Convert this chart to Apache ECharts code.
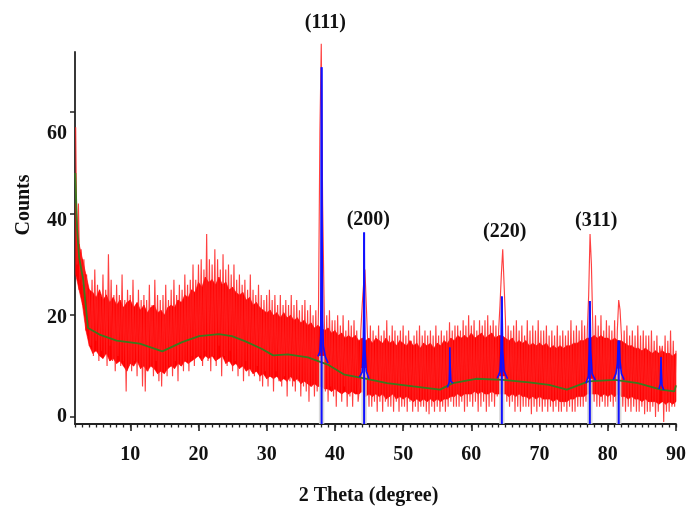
<!DOCTYPE html>
<html>
<head>
<meta charset="utf-8">
<script src="https://cdn.jsdelivr.net/npm/echarts@6/dist/echarts.min.js"></script>
<style>
  html, body { margin: 0; padding: 0; background: #fff; }
  #chart { width: 689px; height: 511px; }
</style>
</head>
<body>
<div id="chart"></div>
<script>
// Measured XRD pattern: counts sampled every 0.2 degrees from 2 to 90 (2θ)
const rawStart = 2.0;
const rawStep = 0.2;
const rawCounts = [
  57, 30, 42, 27, 33, 26, 31, 22, 28, 19,
  25, 14, 27, 12, 29, 15, 26, 11, 24, 13,
  28, 12, 25, 10, 32, 14, 27, 11, 24, 9,
  26, 12, 24, 10, 28, 11, 23, 5, 25, 10,
  24, 9, 27, 11, 22, 8, 25, 10, 23, 6,
  24, 5, 23, 9, 26, 10, 22, 8, 27, 11,
  24, 7, 23, 6, 24, 9, 26, 8, 23, 10,
  25, 8, 27, 11, 24, 7, 26, 10, 25, 9,
  28, 11, 26, 9, 27, 12, 30, 10, 27, 12,
  30, 12, 31, 10, 29, 13, 36, 11, 31, 9,
  30, 12, 33, 10, 31, 14, 29, 8, 32, 12,
  29, 10, 30, 13, 28, 9, 30, 11, 27, 8,
  28, 10, 26, 7, 27, 11, 25, 8, 28, 9,
  25, 8, 24, 10, 26, 7, 24, 6, 23, 9,
  24, 6, 25, 8, 23, 5, 24, 9, 22, 7,
  24, 6, 22, 8, 23, 4, 22, 7, 24, 6,
  22, 5, 23, 7, 21, 4, 22, 6, 23, 5,
  21, 3, 22, 6, 20, 4, 21, 5, 22, 56,
  73.4, 42, 24, 5, 20, 3, 21, 6, 19, 4,
  19, 2, 20, 5, 18, 3, 20, 6, 17, 2,
  19, 4, 18, 2, 19, 5, 17, 3, 6, 17,
  22, 26, 29, 22, 15, 2, 18, 2, 17, 3,
  16, 1, 18, 3, 16, 1, 17, 3, 19, 2,
  16, 2, 18, 1, 17, 3, 16, 1, 17, 2,
  18, 2, 16, 1, 17, 3, 15, 1, 16, 2,
  17, 1, 18, 2, 16, 2, 17, 1, 16, 0.5,
  17, 2, 16, 1, 18, 2, 16, 1, 17, 2,
  16, 1, 17, 2, 18.6, 3, 17, 2, 18, 2,
  18, 2, 17, 3, 19, 1, 18, 2, 20, 3,
  18, 2, 19, 3, 17, 1, 19, 2, 18, 3,
  19, 1, 20, 2, 18, 3, 19, 2, 18, 4,
  17, 22, 28, 33, 26, 19, 3, 18, 2, 17,
  3, 18, 1, 19, 2, 17, 1, 18, 2, 16,
  2, 19, 2, 17, 0.5, 18, 2, 17, 1, 19,
  2, 17, 1, 17, 2, 18, 1, 16, 2, 17,
  1, 16, 2, 18, 1, 16, 1, 17, 2, 16,
  1, 17, 2, 19, 1, 17, 1, 18, 2, 17,
  2, 19, 2, 18, 3, 17, 24, 36, 30, 18,
  3, 20, 2, 18, 2, 20, 3, 17, 2, 19,
  2, 18, 3, 17, 2, 19, 3, 17, 23, 21,
  16, 2, 17, 1, 18, 2, 16, 1, 17, 2,
  16, 1, 18, 1, 16, 2, 17, 0.5, 16, 1,
  16, 1, 17, 2, 15, 0, 16, 1, 14, 12,
  14, -1, 16, 1, 15, 1, 17, 2, 15, 2,
  13
];

// Dense part of the noise band, every 0.5 degrees from 2 to 90
const coreStart = 2;
const coreStep = 0.5;
const coreHigh = [
  42, 34, 31, 28, 25, 24.5, 23.5, 25, 23, 24,
  22.5, 23.5, 22, 23, 21.5, 22.5, 23, 21.5, 22.5, 21,
  22, 20.5, 21.5, 22, 20.5, 21, 20, 21.5, 22, 21.5,
  23, 22.5, 24, 23.5, 25, 24.5, 26.5, 25.5, 27.5, 26.5,
  27, 26, 27.5, 26, 26.5, 25, 25.5, 24.5, 24, 24.5,
  23, 23.5, 22, 22.5, 21.5, 21, 20.5, 21, 20, 20.5,
  19.5, 20.5, 19.5, 20, 19, 19.5, 18.5, 19, 18, 18.5,
  17.5, 18, 17.5, 17, 17.5, 16.5, 17, 16, 16.5, 15.5,
  16, 15.5, 16, 15, 15.5, 15, 15.5, 14.5, 15.5, 15,
  14.5, 15.5, 14.5, 15, 14, 15, 14.5, 14, 15, 14,
  14.5, 13.5, 14.5, 14, 14.5, 13.5, 14.5, 14, 15, 14.5,
  15.5, 15, 16, 15.5, 16, 15.5, 16.5, 15.5, 16, 16.5,
  15.5, 16, 16.5, 15.5, 16, 16, 15.5, 15, 15.5, 14.5,
  15, 14.5, 15, 14, 14.5, 14, 14.5, 14, 14.5, 13.5,
  14, 13.5, 14, 13.5, 14, 14, 14.5, 14.5, 15, 15,
  15.5, 15.5, 16, 15.5, 16, 15.5, 15.5, 15, 15.5, 15,
  15, 14.5, 14, 14, 13.5, 13.5, 13, 13.5, 13, 12.5,
  13, 12.5, 13, 12.5, 12.5, 12, 12.5
];
const coreLow = [
  28, 25, 22, 17, 14, 12.5, 13, 12, 11.5, 12.5,
  11, 11.5, 10.5, 11, 10, 9, 10.5, 10, 11, 9.5,
  10, 9, 10, 9.5, 8.5, 9, 8.5, 9.5, 10, 9.5,
  10.5, 10, 11, 10.5, 11, 11.5, 12, 11, 12, 11.5,
  12, 11, 11.5, 12, 10.5, 11, 10, 10.5, 9.5, 10,
  9, 9.5, 8.5, 9, 8, 8.5, 7.5, 8, 7.5, 8,
  7, 7.5, 7, 8, 7, 7.5, 6.5, 7, 6.5, 6,
  6.5, 6, 6, 5.5, 5.5, 5, 5.5, 5, 4.5, 5,
  4.5, 5, 4.5, 4.5, 5, 4, 4.5, 4, 4.5, 4,
  4.5, 3.5, 4, 4.5, 3.5, 4, 3.5, 4, 3.5, 3,
  3.5, 3, 3.5, 3, 3.5, 3, 3.5, 3, 3.5, 3.5,
  4, 4, 4.5, 4, 4.5, 4.5, 4.5, 5, 4.5, 5,
  4.5, 4.5, 5, 4.5, 4.5, 4.5, 4.5, 4, 4.5, 4,
  4.5, 4, 4, 3.5, 4, 3.5, 4, 3.5, 3.5, 3.5,
  3, 3.5, 3, 3, 3, 3.5, 3.5, 4, 4, 4,
  4.5, 4.5, 4.5, 4.5, 4, 4.5, 4, 4.5, 4, 4.5,
  4, 4, 3.5, 4, 3.5, 3.5, 3, 3.5, 3, 3,
  3, 2.5, 3, 2.5, 3, 2.5, 3
];

// Fitted background
const bgTheta  = [1.95, 2.2, 2.5, 3.1, 3.8, 5.5, 8.0, 11.4, 14.7, 17.6, 20.1, 23.0, 24.9, 26.8, 29.25, 30.95, 33.1, 36.05, 38.95, 41.4, 44.3, 47.65, 51.5, 55.4, 57.3, 60.7, 64.6, 68.45, 71.4, 74.0, 77.17, 81.05, 84.4, 87.8, 89.75, 90.0];
const bgCounts = [48, 37, 31.4, 27, 17.5, 16.2, 15.0, 14.4, 12.9, 14.7, 15.9, 16.3, 15.9, 14.9, 13.4, 12.1, 12.3, 11.7, 10.3, 8.3, 7.6, 6.65, 6.0, 5.36, 6.65, 7.5, 7.3, 6.8, 6.3, 5.36, 7.0, 7.3, 6.65, 5.36, 5.0, 6.2];

// Fitted peak profiles (2θ, counts)
const fit111 = [[37.5, 11.9], [37.8, 12.8], [37.92, 16], [38.0, 40], [38.05, 68.8], [38.1, 40], [38.2, 19], [38.3, 14], [38.6, 11.8], [39.0, 10.6]];
const fit200 = [[43.6, 7.8], [44.0, 8.8], [44.15, 13], [44.22, 21], [44.28, 36.3], [44.34, 21], [44.42, 13], [44.6, 9], [45.0, 7.5]];
const fitSmall57 = [[56.5, 5.8], [56.75, 6.8], [56.82, 10], [56.85, 13.7], [56.9, 10], [57.0, 7], [57.3, 6.65]];
const fit220 = [[63.8, 7.6], [64.2, 8.9], [64.35, 13], [64.42, 20], [64.47, 23.7], [64.52, 20], [64.6, 13], [64.8, 9], [65.3, 7.5]];
const fit311 = [[76.8, 6.6], [77.15, 8], [77.28, 13], [77.34, 20], [77.37, 22.8], [77.42, 20], [77.5, 13], [77.7, 8.5], [78.2, 7.2]];
const fit222 = [[80.8, 7.3], [81.2, 8.5], [81.4, 10.5], [81.5, 13.5], [81.55, 15], [81.62, 14.5], [81.7, 15], [81.8, 11], [82.0, 8.5], [82.4, 7.3]];
const fitSmall88 = [[87.5, 5.5], [87.7, 6.5], [87.75, 9], [87.8, 11.8], [87.85, 9], [87.95, 6.2], [88.2, 5.3]];

// Reference reflections (sticks) and the shaded peak bases
const stickTheta = [38.05, 44.28, 64.47, 77.37, 81.6];
const stickTop   = [68.8, 36.3, 23.7, 22.8, 15];
const shadeTop   = [12, 9.6, 8, 7.5, 9.5];

// Miller index annotations
const hklText   = ['(111)', '(200)', '(220)', '(311)'];
const hklTheta  = [38.6, 44.9, 64.9, 78.3];
const hklCounts = [77.6, 38.8, 36.5, 38.6];

const xMajorTicks = [10, 20, 30, 40, 50, 60, 70, 80, 90];
const yMajorTicks = [0, 20, 40, 60];

const X_MIN = 1.9, X_MAX = 90, Y_MIN = -1.4, Y_MAX = 71.8;

const xMinorTicks = [];
for (let t = 2; t <= 90; t++) xMinorTicks.push(t);

const rawData = rawCounts.map((c, i) => [+(rawStart + i * rawStep).toFixed(2), c]);
const coreData = coreHigh.map((h, i) => [coreStart + i * coreStep, coreLow[i], h]);
const bgData = bgTheta.map((t, i) => [t, bgCounts[i]]);

const serifBold = {
  fontFamily: '"Liberation Serif", "Times New Roman", serif',
  fontWeight: 'bold',
  fontSize: 20,
  color: '#111'
};

const chart = echarts.init(document.getElementById('chart'), null, { renderer: 'canvas' });

const fitSeries = [fit111, fit200, fitSmall57, fit220, fit311, fit222, fitSmall88].map(d => ({
  type: 'line',
  data: d,
  showSymbol: false,
  smooth: false,
  clip: false,
  lineStyle: { color: '#1010ff', width: 1.6 },
  z: 5,
  silent: true
}));

chart.setOption({
  animation: false,
  backgroundColor: '#fff',
  grid: { left: 75, right: 7, top: 52, bottom: 81, containLabel: false },
  xAxis: [
    {
      type: 'value', min: X_MIN, max: X_MAX, position: 'bottom',
      name: '2 Theta (degree)', nameLocation: 'middle', nameGap: 62,
      nameTextStyle: Object.assign({}, serifBold, { padding: [0, 14, 0, 0] }),
      axisLine: { show: true, onZero: false, lineStyle: { color: '#222', width: 1.8 } },
      axisTick: { show: true, customValues: xMajorTicks, length: 7, lineStyle: { color: '#222', width: 1.6 } },
      axisLabel: Object.assign({ customValues: xMajorTicks, margin: 21 }, serifBold),
      splitLine: { show: false }
    },
    {
      type: 'value', min: X_MIN, max: X_MAX, position: 'bottom', gridIndex: 0,
      axisLine: { show: false, onZero: false },
      axisTick: { show: true, customValues: xMinorTicks, length: 3.5, lineStyle: { color: '#222', width: 1.3 } },
      axisLabel: { show: false },
      splitLine: { show: false }
    }
  ],
  yAxis: {
    type: 'value', min: Y_MIN, max: Y_MAX,
    name: 'Counts', nameLocation: 'middle', nameGap: 41, nameRotate: 90,
    nameTextStyle: Object.assign({}, serifBold, { padding: [0, 0, 0, 66] }),
    axisLine: { show: true, onZero: false, lineStyle: { color: '#222', width: 1.8 } },
    axisTick: { show: true, customValues: yMajorTicks, length: 5, lineStyle: { color: '#222', width: 1.5 } },
    axisLabel: Object.assign({
      customValues: yMajorTicks, margin: 8,
      formatter: v => v === 60 ? '{a|60}' : v === 40 ? '{b|40}' : v === 20 ? '{c|20}' : '{n|' + v + '}',
      rich: {
        a: Object.assign({ padding: [43, 0, 0, 0] }, serifBold),
        b: Object.assign({ padding: [14, 0, 0, 0] }, serifBold),
        c: Object.assign({ padding: [5, 0, 0, 0] }, serifBold),
        n: Object.assign({}, serifBold)
      }
    }, serifBold),
    splitLine: { show: false }
  },
  series: [
    {
      // dense noise band between coreLow and coreHigh
      type: 'custom',
      data: coreData,
      clip: false,
      z: 1,
      silent: true,
      renderItem: (params, api) => {
        const i = params.dataIndexInside;
        if (i >= params.dataInsideLength - 1) return null;
        const a = [api.value(0, i), api.value(1, i), api.value(2, i)];
        const b = [api.value(0, i + 1), api.value(1, i + 1), api.value(2, i + 1)];
        const pts = [
          api.coord([a[0], a[1]]), api.coord([b[0], b[1]]),
          api.coord([b[0], b[2]]), api.coord([a[0], a[2]])
        ];
        return {
          type: 'polygon',
          shape: { points: pts },
          style: { fill: '#ff0000', stroke: '#ff0000', lineWidth: 0.6 }
        };
      }
    },
    {
      type: 'line',
      data: rawData,
      showSymbol: false,
      clip: false,
      lineStyle: { color: '#ff1f1f', width: 1.15, opacity: 0.85 },
      z: 2,
      silent: true
    },
    {
      type: 'custom',
      data: stickTheta.map((t, i) => [t, shadeTop[i]]),
      clip: false,
      z: 3,
      silent: true,
      renderItem: (params, api) => {
        const t = api.value(0);
        const p0 = api.coord([t - 0.4, Y_MIN]);
        const p1 = api.coord([t + 0.4, api.value(1)]);
        return {
          type: 'rect',
          shape: { x: p0[0], y: p1[1], width: p1[0] - p0[0], height: p0[1] - p1[1] },
          style: { fill: '#d4d4d4', opacity: 0.85 }
        };
      }
    },
    {
      type: 'line',
      data: bgData,
      showSymbol: false,
      clip: false,
      lineStyle: { color: '#3b7a1e', width: 1.8 },
      z: 4,
      silent: true
    },
    ...fitSeries,
    {
      type: 'custom',
      data: stickTheta.map((t, i) => [t, stickTop[i]]),
      clip: false,
      z: 6,
      silent: true,
      renderItem: (params, api) => {
        const t = api.value(0);
        const p0 = api.coord([t, Y_MIN]);
        const p1 = api.coord([t, api.value(1)]);
        return {
          type: 'line',
          shape: { x1: p0[0], y1: p0[1], x2: p1[0], y2: p1[1] },
          style: { stroke: '#1010ff', lineWidth: 2 }
        };
      }
    },
    {
      type: 'scatter',
      data: hklTheta.map((t, i) => ({ value: [t, hklCounts[i]], label: { formatter: hklText[i] } })),
      symbolSize: 1,
      itemStyle: { color: 'rgba(0,0,0,0)' },
      clip: false,
      z: 7,
      silent: true,
      label: Object.assign({ show: true, position: 'inside', textBorderWidth: 0, opacity: 1 }, serifBold)
    }
  ]
});
</script>
</body>
</html>
